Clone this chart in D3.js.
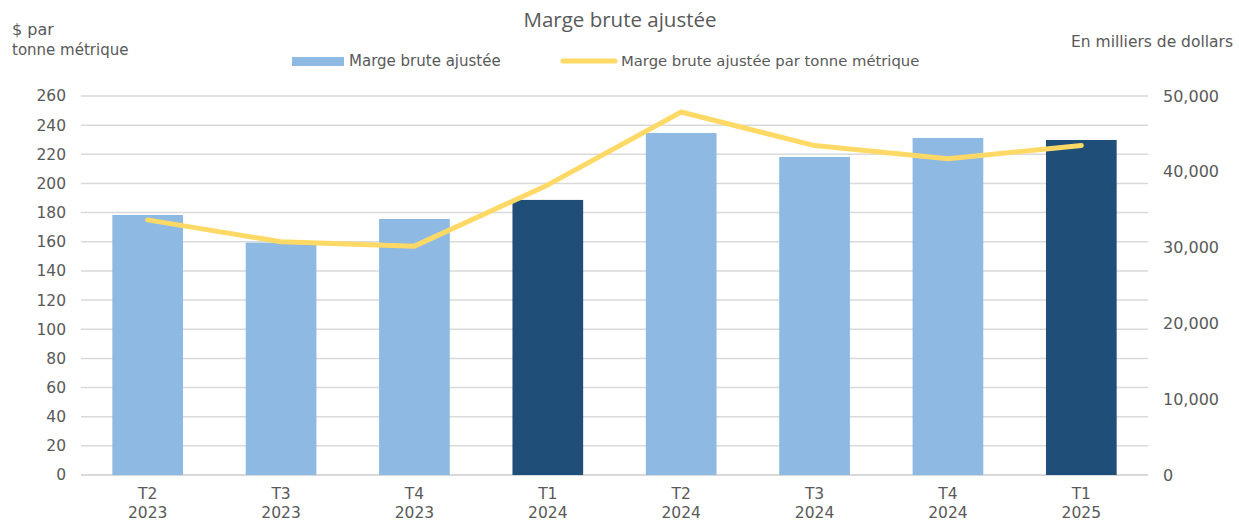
<!DOCTYPE html>
<html>
<head>
<meta charset="utf-8">
<script src="https://cdn.jsdelivr.net/npm/d3@7"></script>
<style>
  body { margin: 0; background: #fff; }
  text { font-family: "DejaVu Sans", sans-serif; fill: #595959; }
</style>
</head>
<body>
<div id="chart"></div>
<script>
// quarters and values
var quarters = ['T2', 'T3', 'T4', 'T1', 'T2', 'T3', 'T4', 'T1'];
var years = ['2023', '2023', '2023', '2024', '2024', '2024', '2024', '2025'];
var margin_k = [34300, 30650, 33780, 36290, 45120, 41960, 44460, 44200];   // en milliers de dollars
var margin_per_ton = [175, 160, 157, 199, 249, 226, 217, 226];           // $ par tonne metrique
var is_q1 = [false, false, false, true, false, false, false, true];
var left_ticks = d3.range(0, 261, 20);
var right_ticks = [0, 10000, 20000, 30000, 40000, 50000];

var width = 1239, height = 523;
var pad = {left: 81, right: 91, top: 96, bottom: 48};

var svg = d3.select('#chart').append('svg')
    .attr('width', width)
    .attr('height', height);

var x = d3.scaleBand()
    .domain(d3.range(quarters.length))
    .range([pad.left, width - pad.right])
    .paddingInner(0.47)
    .paddingOuter(0.235);

var yl = d3.scaleLinear().domain([0, 260]).range([height - pad.bottom, pad.top]);
var yr = d3.scaleLinear().domain([0, 50000]).range([height - pad.bottom, pad.top]);

// gridlines
svg.append('g')
    .selectAll('line')
    .data(left_ticks)
    .enter()
    .append('line')
    .attr('x1', pad.left)
    .attr('x2', width - pad.right)
    .attr('y1', function(d) { return yl(d); })
    .attr('y2', function(d) { return yl(d); })
    .style('stroke', '#d9d9d9')
    .style('stroke-width', function(d) { return d == 0 ? 2 : 1.5; });

// left axis
var left_axis = svg.append('g')
    .attr('transform', 'translate(' + pad.left + ',0)')
    .call(d3.axisLeft(yl).tickValues(left_ticks).tickSize(0).tickPadding(15));
left_axis.select('.domain').remove();
left_axis.selectAll('text')
    .style('font-size', '15.5px')
    .style('fill', '#595959')
    .style('font-family', '"DejaVu Sans", sans-serif');

// right axis
var right_axis = svg.append('g')
    .attr('transform', 'translate(' + (width - pad.right) + ',0)')
    .call(d3.axisRight(yr).tickValues(right_ticks).tickSize(0).tickPadding(15).tickFormat(d3.format(',')));
right_axis.select('.domain').remove();
right_axis.selectAll('text')
    .style('font-size', '16px')
    .style('fill', '#595959')
    .style('font-family', '"DejaVu Sans", sans-serif');

// bars
svg.append('g')
    .selectAll('rect')
    .data(margin_k)
    .enter()
    .append('rect')
    .attr('x', function(d, i) { return x(i); })
    .attr('y', function(d) { return yr(d); })
    .attr('width', x.bandwidth())
    .attr('height', function(d) { return yr(0) - yr(d); })
    .style('fill', function(d, i) { return is_q1[i] ? '#1f4e79' : '#8db9e2'; });

// line
var line = d3.line()
    .x(function(d, i) { return x(i) + x.bandwidth() / 2; })
    .y(function(d) { return yl(d); });

svg.append('path')
    .datum(margin_per_ton)
    .attr('d', line)
    .style('fill', 'none')
    .style('stroke', '#ffd966')
    .style('stroke-width', 5)
    .style('stroke-linecap', 'round')
    .style('stroke-linejoin', 'round');

// category labels
var cats = svg.append('g')
    .selectAll('text')
    .data(quarters)
    .enter()
    .append('text')
    .attr('x', function(d, i) { return x(i) + x.bandwidth() / 2; })
    .attr('y', 499)
    .style('text-anchor', 'middle')
    .style('font-size', '15.5px');
cats.append('tspan')
    .text(function(d) { return d; });
cats.append('tspan')
    .attr('x', function(d, i) { return x(i) + x.bandwidth() / 2; })
    .attr('dy', 19)
    .text(function(d, i) { return years[i]; });

// title
svg.append('text')
    .attr('x', 620)
    .attr('y', 27)
    .style('text-anchor', 'middle')
    .style('font-family', '"Open Sans", sans-serif')
    .style('font-size', '20.5px')
    .text('Marge brute ajustée');

// axis titles
svg.append('text').attr('x', 12).attr('y', 35).style('font-size', '16px').text('$ par');
svg.append('text').attr('x', 12).attr('y', 55).style('font-size', '15px').text('tonne métrique');
svg.append('text').attr('x', 1233).attr('y', 47).style('text-anchor', 'end')
    .style('font-size', '15.5px').text('En milliers de dollars');

// legend
var legend = svg.append('g');
legend.append('rect')
    .attr('x', 292).attr('y', 57)
    .attr('width', 52).attr('height', 9)
    .style('fill', '#8db9e2');
legend.append('text')
    .attr('x', 349).attr('y', 66)
    .style('font-size', '15px')
    .text('Marge brute ajustée');
legend.append('line')
    .attr('x1', 563).attr('x2', 615)
    .attr('y1', 61).attr('y2', 61)
    .style('stroke', '#ffd966')
    .style('stroke-width', 5)
    .style('stroke-linecap', 'round');
legend.append('text')
    .attr('x', 621).attr('y', 66)
    .style('font-size', '14.8px')
    .text('Marge brute ajustée par tonne métrique');
</script>
</body>
</html>
